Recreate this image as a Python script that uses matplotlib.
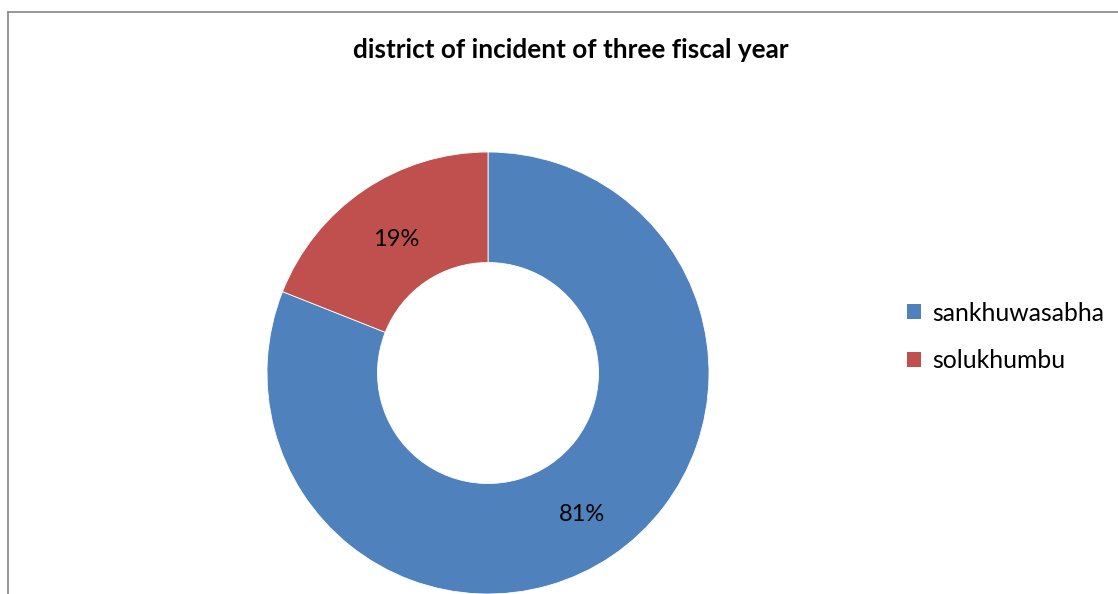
import matplotlib
matplotlib.use("Agg")
import matplotlib.pyplot as plt
from matplotlib.lines import Line2D
from matplotlib.patches import Patch
from matplotlib.transforms import ScaledTranslation

categories = ["sankhuwasabha", "solukhumbu"]
values = [81, 19]
colors = ["#4F81BD", "#C0504D"]
title = "district of incident of three fiscal year"

W, H = 1118, 594
fig = plt.figure(figsize=(W / 100, H / 100), dpi=100)
fig.patch.set_facecolor("white")
FONT = ["Lato", "DejaVu Sans"]

# outer chart frame (extends beyond right/bottom)
fig.add_artist(Line2D([8 / W, 8 / W], [0, 1 - 11.5 / H], transform=fig.transFigure,
                      color="#868686", lw=1.2))
fig.add_artist(Line2D([8 / W, 1], [1 - 11.5 / H, 1 - 11.5 / H], transform=fig.transFigure,
                      color="#868686", lw=1.2))

# pie axes: center (488, 373), radius 221 px
cx, cy, r = 488, 373, 221
ax = fig.add_axes([(cx - r) / W, (H - cy - r) / H, 2 * r / W, 2 * r / H])
wedges, texts, autotexts = ax.pie(
    values, colors=colors, startangle=90, counterclock=False,
    radius=1.0, autopct=lambda p: f"{p:.0f}%", pctdistance=0.75,
    wedgeprops=dict(width=0.5, edgecolor="white", linewidth=0.6),
    textprops=dict(fontsize=17, family=FONT, color="black"))
for w in wedges:
    w.set_clip_on(False)
for t in autotexts:
    t.set_transform(t.get_transform() + ScaledTranslation(0.01, -0.04, fig.dpi_scale_trans))
ax.set_xlim(-1, 1)
ax.set_ylim(-1, 1)
ax.set_aspect("equal")
ax.axis("off")

fig.text(571 / W, 1 - 58 / H, title, ha="center", va="baseline",
         fontsize=18.8, fontweight="bold", family=FONT)

handles = [Patch(facecolor=c, edgecolor="none") for c in colors]
leg = fig.legend(handles, categories, loc="center left",
                 bbox_to_anchor=(907 / W, 1 - 337 / H), frameon=False,
                 prop=dict(family=FONT, size=17.8), handlelength=0.55,
                 handleheight=0.55, handletextpad=0.45, labelspacing=1.0,
                 borderaxespad=0, borderpad=0)

fig.savefig("out.png", dpi=100)
